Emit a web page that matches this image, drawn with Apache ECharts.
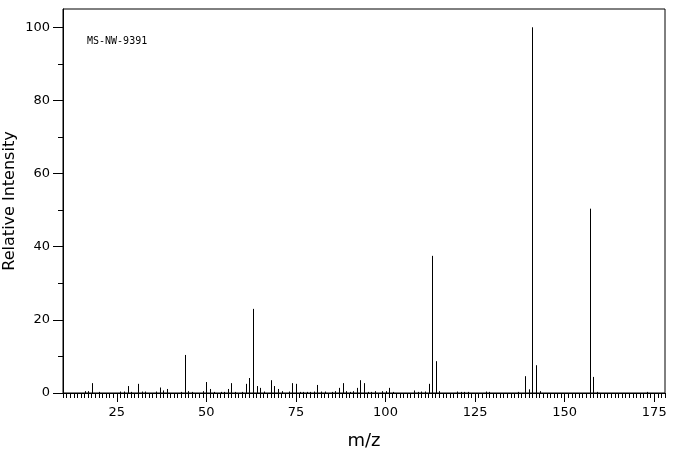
<!DOCTYPE html>
<html>
<head>
<meta charset="utf-8">
<script src="https://cdn.jsdelivr.net/npm/echarts@6/dist/echarts.min.js"></script>
<style>
html,body{margin:0;padding:0;background:#fff;}
#c{width:676px;height:455px;}
</style>
</head>
<body>
<div id="c"></div>
<script>
var mzValues = [16,17,18,20,26,27,28,29,31,32,33,36,37,38,39,43,44,45,46,49,50,51,52,54,55,56,57,58,60,61,62,63,64,65,66,68,69,70,71,73,74,75,76,77,78,79,80,81,82,83,85,86,87,88,89,90,91,92,93,94,95,96,97,99,100,101,102,108,109,110,111,112,113,114,115,120,121,122,123,128,129,137,139,140,141,142,143,157,158,159,173];
var intensities = [0.5,0.5,2.7,0.3,0.4,0.4,1.9,0.3,2.5,0.4,0.4,0.4,1.5,0.7,1.1,0.3,10.4,0.5,0.3,0.5,3.0,1.1,0.3,0.3,0.3,1.1,2.7,0.3,0.3,2.5,4.1,23.0,1.9,1.4,0.4,3.5,1.9,1.1,0.5,0.4,2.7,2.5,0.3,0.3,0.3,0.3,0.4,2.2,0.4,0.4,0.3,0.5,1.4,2.7,0.5,0.3,0.5,1.4,3.5,2.7,0.3,0.3,0.5,0.5,0.5,1.4,0.3,0.7,0.3,0.4,0.4,2.5,37.5,8.7,0.5,0.4,0.3,0.3,0.3,0.4,0.3,0.3,4.6,1.0,100,7.6,0.5,50.4,4.4,0.3,0.3];
var xTickLabels = [25,50,75,100,125,150,175];
var yTickLabels = [0,20,40,60,80,100];
var yMinorTicks = [10,30,50,70,90];
var sampleId = 'MS-NW-9391';

var data = mzValues.map(function(m,i){return [m,intensities[i]];});
var chart = echarts.init(document.getElementById('c'), null, {renderer:'canvas'});
var font = 'DejaVu Sans';
chart.setOption({
  animation:false,
  backgroundColor:'#fff',
  grid:{left:63,top:9,width:602,height:384,show:true,borderColor:'#000',borderWidth:1,backgroundColor:'transparent',containLabel:false,outerBoundsMode:'none'},
  xAxis:[{
    type:'value',min:10,max:178,
    name:'m/z',nameLocation:'middle',nameGap:39,
    nameTextStyle:{fontFamily:font,fontSize:18,color:'#000'},
    axisLine:{show:true,lineStyle:{color:'#000',width:1}},
    axisTick:{show:true,length:9,lineStyle:{color:'#000'},customValues:xTickLabels},
    axisLabel:{show:true,margin:13,fontFamily:font,fontSize:13,color:'#000',customValues:xTickLabels},
    splitLine:{show:false}
  },{
    type:'value',min:10,max:178,interval:1,position:'bottom',
    axisLine:{show:false},
    axisTick:{show:true,length:5,lineStyle:{color:'#000'}},
    axisLabel:{show:false},
    splitLine:{show:false}
  }],
  yAxis:[{
    type:'value',min:0,max:105,
    name:'Relative Intensity',nameLocation:'middle',nameGap:45,nameMoveOverlap:false,
    nameTextStyle:{fontFamily:font,fontSize:16,color:'#000'},
    axisLine:{show:true,lineStyle:{color:'#000',width:1}},
    axisTick:{show:true,length:10,lineStyle:{color:'#000'},customValues:yTickLabels},
    axisLabel:{show:true,margin:13,fontFamily:font,fontSize:13,color:'#000',customValues:yTickLabels},
    splitLine:{show:false}
  },{
    type:'value',min:0,max:105,position:'left',
    axisLine:{show:false},
    axisTick:{show:true,length:5,lineStyle:{color:'#000'},customValues:yMinorTicks},
    axisLabel:{show:false,customValues:yMinorTicks},
    splitLine:{show:false}
  }],
  graphic:[{type:'text',left:87,top:36,style:{text:sampleId,font:'10px "DejaVu Sans Mono"',fill:'#000'}}],
  series:[{
    type:'custom',xAxisIndex:0,yAxisIndex:0,data:data,silent:true,
    encode:{x:0,y:1},
    renderItem:function(params,api){
      var p0 = api.coord([api.value(0),0]);
      var p1 = api.coord([api.value(0),api.value(1)]);
      var x = Math.round(p0[0]) + 0.5;
      return {type:'line',shape:{x1:x,y1:p0[1],x2:x,y2:p1[1]},style:{stroke:'#000',lineWidth:1}};
    }
  }]
});
</script>
</body>
</html>
